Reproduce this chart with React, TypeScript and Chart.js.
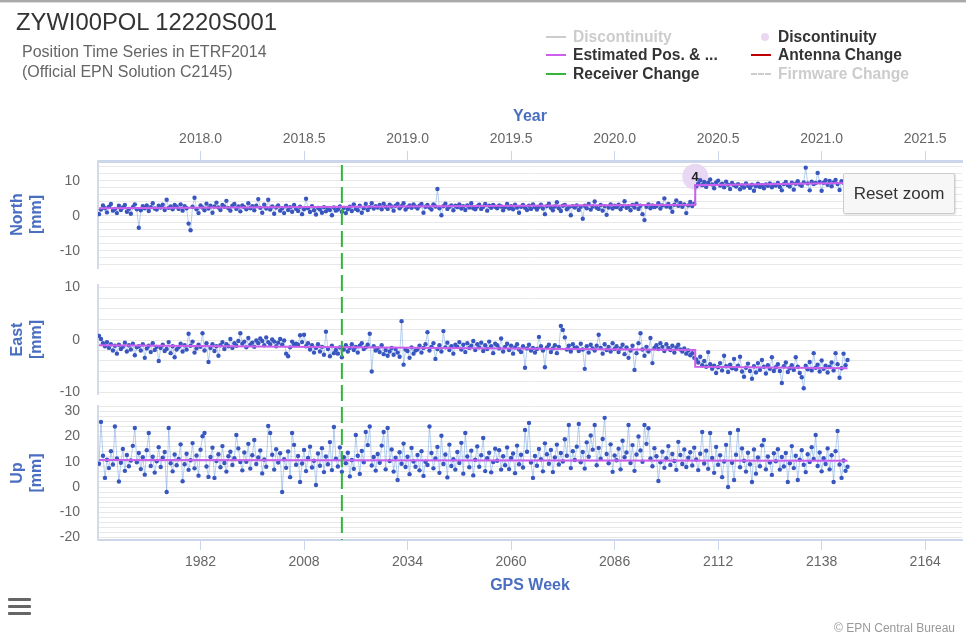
import React, { useEffect, useRef } from 'react';
import { Chart, registerables } from 'chart.js';

Chart.register(...registerables);

const FONT = '"Liberation Sans", Arial, Helvetica, sans-serif';
const BLUE = '#4a6fc1';
const VIOLET = '#cc5fec';
const GREEN = '#33b53a';
const DOT = '#3856c0';

// Epochs: first observation week and spacing (weeks) between plotted samples
const WEEK_START = 1956.5;
const WEEK_STEP = 0.5;

const NORTH: number[] = [
  0.5, 1.8, 3.0, 2.2, 1.0, 2.6, 3.4, 1.5, 2.0, 0.8, 2.9, 1.7, 2.4, 3.1, 1.2, 2.0, 0.6, 2.5, 3.3, 1.9,
  -3.4, 1.6, 2.8, 2.2, 3.0, 1.4, 2.5, 3.6, 2.1, 1.8, 2.9, 2.4, 3.2, 1.7, 4.6, 2.3, 2.7, 1.9, 3.1, 2.6,
  2.0, 3.3, 1.5, 2.8, 2.2, -2.2, -4.1, 2.6, 5.2, 1.9, 0.8, 3.0, 2.4, 1.6, 3.5, 2.1, 2.9, 0.9, 2.7, 3.8,
  2.4, 1.7, 3.1, 2.6, 4.3, 2.2, 1.5, 2.9, 3.4, 2.0, 2.7, 1.3, 3.0, 2.5, 1.9, 3.6, 2.2, 2.8, 1.6, 2.9,
  4.8, 2.3, 0.9, 3.2, 2.1, 4.6, 1.8, 2.7, 0.6, 2.4, 3.0, 1.5, 2.2, 0.8, 2.9, 1.7, 2.5, 1.2, 3.1, 2.0,
  1.4, 2.6, 0.5, 1.9, 4.9, 2.2, 1.1, 2.8, 1.6, 0.4, 2.3, 1.8, 0.9, 2.5, 1.3, 2.1, 1.7, 0.2, 2.4, 1.5,
  1.8, 2.7, 1.2, 2.3, 0.8, 1.9, 2.6, 1.4, 3.3, 2.0, 1.6, 2.9, 0.9, 2.2, 3.4, 1.7, 2.5, 3.6, 2.1, 2.8,
  2.4, 3.1, 1.9, 3.5, 2.6, 2.0, 3.2, 2.7, 1.5, 2.9, 3.4, 2.2, 2.8, 3.6, 1.8, 2.5, 3.0, 2.3, 3.3, 2.6,
  2.1, 2.9, 3.4, 0.9, 2.6, 3.1, 2.4, 1.8, 3.3, 2.7, 7.7, 2.2, 0.2, 2.8, 3.5, 2.0, 2.6, 3.0, 1.6, 2.9,
  2.5, 3.3, 2.1, 2.8, 1.7, 3.0, 2.4, 3.6, 2.2, 1.9, 2.7, 3.2, 2.0, 2.6, 3.4, 1.5, 2.9, 2.3, 3.1, 2.6,
  2.2, 3.0, 2.7, 1.6, 2.5, 3.4, 2.1, 2.8, 1.9, 3.2, 2.4, 0.9, 2.6, 3.1, 2.3, 1.7, 2.9, 2.0, 3.3, 2.5,
  1.8, 2.6, 3.2, 2.1, 0.5, 2.8, 3.5, 2.3, 1.6, 2.7, 3.9, 2.2, 1.4, 2.9, 3.1, 1.9, 2.5, 0.2, 2.8, 2.4,
  3.0, 1.7, 2.6, -0.8, 2.9, 2.2, 3.4, 1.8, 2.7, 4.1, 2.3, 2.0, 3.1, 1.5, 2.8, 0.3, 2.4, 3.3, 2.1, 2.9,
  2.5, 3.2, 1.9, 2.8, 4.2, 2.3, 2.7, 1.6, 3.1, 2.4, 3.5, 2.0, 2.9, 0.5, -1.2, 2.6, 3.3, 2.2, 3.0, 2.5,
  2.8, 3.6, 2.1, 3.0, 5.0, 2.7, 3.4, 2.4, 1.2, 3.2, 4.4, 2.9, 3.7, 2.6, 3.3, 0.8, 3.0, 4.0, 2.8, 3.5,
  8.5, 9.3, 10.2, 8.8, 9.7, 8.3, 9.5, 10.4, 9.0, 7.9, 9.6, 10.1, 8.7, 9.2, 8.2, 9.8, 8.9, 7.7, 9.4, 8.8,
  8.4, 9.1, 7.6, 8.7, 8.1, 9.3, 8.6, 8.0, 8.9, 7.2, 8.5, 9.2, 8.3, 8.8, 7.9, 9.0, 8.6, 9.3, 8.2, 8.9,
  8.7, 9.4, 8.3, 7.3, 9.1, 9.7, 8.8, 8.4, 9.5, 7.5, 9.2, 9.9, 9.0, 8.6, 9.6, 13.8, 9.3, 7.3, 9.8, 9.1,
  9.4, 12.3, 9.7, 7.2, 9.5, 10.2, 8.9, 10.0, 8.5, 9.6, 10.3, 9.1, 7.4, 9.9, 9.5, 10.5, 9.3,
];

const EAST: number[] = [
  0.8, 0.2, -0.6, -1.2, -0.4, -1.5, -0.8, -2.0, -1.1, -2.6, -0.9, -1.7, -1.3, -0.5, -2.2, -1.0, -1.8, -0.7, -2.9, -1.4,
  -1.2, -2.0, -0.8, -3.4, -1.6, -1.1, -2.3, -0.6, -1.9, -1.3, -4.0, -1.5, -0.9, -2.1, -1.7, -0.4, -2.5, -1.2, -3.3, -1.8,
  -1.4, -0.7, -2.2, -1.0, -1.8, 1.2, -1.1, -0.3, -2.4, -1.6, -0.9, -1.3, 1.3, -2.0, -0.6, -4.2, -1.5, -0.8, -2.1, -1.2,
  -3.0, -1.0, -0.4, -1.7, -0.8, -1.2, 0.2, -1.5, -0.6, -1.1, -0.2, 1.3, -0.7, -0.3, -1.4, 0.4, -0.9, -0.5, -1.3, -0.1,
  -0.6, 0.3, -0.2, -1.0, 0.5, -0.4, -0.8, 0.1, -0.3, -1.2, -0.5, 0.2, -0.9, -0.1, -2.6, -3.1, -1.4, -0.3, -0.8, -0.7,
  -0.9, 0.9, -0.4, 1.0, -1.2, -0.6, -1.8, -1.0, -2.4, -1.5, -0.8, -2.2, -1.3, -2.8, 1.6, -1.7, -3.1, -1.1, -2.5, -1.9,
  -2.6, -1.4, -3.3, -1.8, -1.0, -2.2, -1.5, -0.8, -1.9, -1.3, -2.4, -1.1, -0.6, -1.7, -1.4, -0.9, 1.2, -6.0, -1.2, -2.0,
  -1.6, -2.3, -1.0, -2.7, -1.9, -3.0, -2.2, -1.5, -2.8, -1.7, -2.4, -3.2, 3.6, -4.7, -1.8, -2.1, -3.4, -1.4, -2.6, -2.0,
  -1.8, -1.1, -2.4, -1.5, -0.8, 1.5, -2.0, -1.3, -0.6, -3.6, -1.7, -1.0, -2.2, 1.7, -1.4, -0.5, -1.9, -1.2, -2.6, -0.9,
  -1.3, -0.4, -1.8, -0.9, -2.3, -0.6, -1.5, -1.1, -0.2, -1.9, -0.8, -1.4, -0.5, -2.1, -1.0, -1.7, -0.3, -1.2, -2.5, -0.7,
  -1.0, -1.6, 0.3, -2.2, -1.3, -0.7, -1.9, -1.1, -2.6, -1.4, -0.8, -1.8, -2.3, -1.2, -5.3, -1.6, -0.9, -2.0, -1.5, -2.4,
  -1.7, 0.6, -1.2, -2.0, -5.2, -1.4, -0.9, -2.3, -1.6, -1.0, -2.5, -1.3, 2.7, 1.9, 0.5, -1.8, -1.1, -2.2, -0.8, -1.5,
  -1.4, -2.1, -0.7, -1.8, -5.5, -1.2, -2.4, -0.9, -1.6, -2.0, -1.1, 1.0, -1.5, -2.6, -0.8, -1.9, -1.3, -2.2, -0.6, -1.7,
  -1.2, -2.3, -1.6, -0.9, -2.7, -1.4, -3.4, -2.0, -1.1, -5.7, -2.5, -0.6, 1.3, -1.8, -3.0, -1.3, -2.2, 0.4, -4.4, -1.5,
  -1.0, -1.7, -0.6, -1.3, -2.1, -0.8, -1.5, -1.9, -1.1, -2.4, -1.4, -0.9, -1.8, -2.2, -1.6, -2.6, -2.0, -2.9, -2.5, -3.4,
  -3.7, -4.3, -3.2, -4.8, -4.0, -5.1, -2.3, -4.6, -5.5, -4.9, -6.3, -5.2, -4.4, -5.8, -3.0, -5.0, -6.1, -4.7, -5.4, -3.6,
  -5.6, -4.9, -3.2, -6.0, -7.0, -5.3, -4.5, -5.9, -7.4, -5.0, -6.2, -4.4, -5.7, -3.8, -5.1, -6.4, -4.8, -5.5, -3.3, -5.9,
  -5.2, -4.6, -5.9, -8.2, -5.0, -4.3, -6.1, -5.4, -4.8, -5.7, -3.3, -5.1, -6.3, -7.1, -9.2, -4.9, -5.6, -4.2, -5.8, -2.5,
  -5.3, -4.7, -6.0, -3.9, -5.5, -4.9, -6.2, -5.1, -4.3, -5.8, -2.5, -4.6, -7.2, -5.4, -2.6, -4.8, -3.8,
];

const UP: number[] = [
  9.2, 25.8, 12.4, 3.6, 10.8, 7.5, 14.2, 8.9, 24.0, 11.3, 2.2, 9.6, 15.1, 6.4, 12.7, 8.2, 10.5, 16.3, 23.4, 9.8,
  13.5, 7.1, 11.8, 4.9, 14.6, 21.4, 8.3, 12.0, 5.7, 10.2, 15.8, 7.9, 11.6, 13.9, -2.0, 23.4, 9.4, 6.2, 12.9, 8.6,
  11.1, 16.9, 2.3, 9.0, 13.2, 6.8, 10.6, 17.4, 7.4, 12.5, 4.5, 14.8, 20.1, 21.4, 8.1, 4.0, 11.9, 15.6, 3.6, 10.3,
  13.0, 7.8, 16.2, 9.5, 6.1, 12.2, 14.0, 8.7, 11.4, 20.6, 15.3, 9.9, 6.6, 13.7, 10.0, 17.1, 7.3, 12.6, 18.6, 9.1,
  11.7, 14.5, 5.4, 10.9, 8.0, 24.2, 21.4, 12.8, 6.9, 15.0, 9.7, 13.4, -2.0, 11.0, 7.6, 14.1, 3.9, 21.4, 16.7, 8.8,
  12.3, 2.0, 9.3, 14.7, 6.3, 11.5, 16.0, 7.7, 10.4, 0.8, 13.3, 8.4, 15.4, 5.9, 12.1, 9.0, 17.8, 6.7, 23.8, 11.2,
  8.1, 15.7, 6.0, 11.8, 9.4, 13.6, 4.2, 10.7, 7.2, 20.6, 12.4, 5.2, 14.3, 9.8, 21.8, 16.6, 24.0, 8.5, 11.9, 6.5,
  13.1, 9.6, 16.4, 21.8, 7.0, 23.4, 10.3, 14.9, 6.1, 11.6, 2.8, 13.8, 9.2, 17.2, 7.9, 12.0, 5.1, 15.5, 10.1, 8.0,
  12.7, 6.6, 14.2, 4.4, 10.0, 8.7, 24.0, 13.5, 7.4, 11.3, 15.9, 5.6, 20.3, 9.1, 12.9, 3.8, 16.8, 8.3, 11.0, 6.9,
  13.9, 9.5, 17.5, 5.3, 21.4, 12.1, 7.8, 14.4, 4.6, 10.8, 16.1, 8.0, 12.6, 19.4, 6.3, 11.4, 13.6, 5.8, 9.9, 15.2,
  10.4, 14.6, 6.9, 12.2, 8.6, 15.7, 7.1, 11.5, 13.3, 5.5, 16.4, 9.0, 12.8, 7.7, 22.6, 14.0, 25.4, 9.7, 3.6, 12.3,
  8.4, 15.1, 11.0, 6.2, 17.3, 13.0, 9.2, 14.7, 5.9, 11.7, 16.8, 8.9, 13.5, 10.1, 18.9, 12.4, 24.6, 7.5, 14.2, 10.7,
  16.0, 25.0, 9.8, 13.9, 7.3, 17.7, 12.0, 20.4, 14.8, 24.6, 8.6, 15.5, 11.2, 19.0, 27.4, 13.1, 9.4, 16.9, 6.0, 12.5,
  10.6, 15.2, 7.0, 18.3, 11.8, 13.7, 24.6, 9.5, 16.6, 6.4, 12.9, 20.0, 14.5, 10.0, 24.6, 17.1, 23.3, 11.3, 8.2, 15.4,
  12.2, 2.4, 9.8, 14.0, 7.6, 11.4, 16.2, 8.7, 13.1, 10.3, 6.8, 17.9, 12.7, 9.1, 14.9, 7.9, 11.6, 13.8, 8.5, 15.6,
  10.9, 6.7, 13.2, 21.8, 9.3, 14.4, 7.2, 21.4, 11.5, 5.6, 15.9, 8.8, 12.6, 3.9, 10.1, 16.7, 0.0, 21.4, 9.6, 2.8,
  12.8, 22.6, 7.8, 15.3, 10.4, 6.1, 13.6, 9.0, 2.0, 14.9, 5.3, 11.7, 8.2, 16.5, 18.6, 7.0, 12.1, 9.7, 4.8, 13.4,
  10.2, 15.0, 6.9, 11.9, 8.1, 13.5, 2.0, 9.4, 16.2, 7.5, 12.4, 2.8, 10.8, 14.6, 8.8, 5.9, 13.0, 9.9, 15.8, 11.1,
  20.6, 8.3, 13.7, 6.2, 11.4, 9.1, 15.3, 7.0, 12.6, 2.0, 14.2, 22.2, 8.9, 3.6, 10.5, 6.4, 8.0,
];

// Estimated position model (piecewise, with the discontinuity at week 2106.25)
const NORTH_EST_WEEKS = [1956.5, 2106.25, 2106.25, 2144.5];
const NORTH_EST = [2.2, 3.2, 8.8, 9.4];
const EAST_EST_WEEKS = [1956.5, 2106.25, 2106.25, 2144.5];
const EAST_EST = [-1.0, -1.9, -5.1, -5.4];
const UP_EST_WEEKS = [1956.5, 2144.5];
const UP_EST = [10.7, 10.4];

const WEEK_TICKS = [1982, 2008, 2034, 2060, 2086, 2112, 2138, 2164];
const WEEK_LABELS = ['1982', '2008', '2034', '2060', '2086', '2112', '2138', '2164'];
const YEAR_LABELS = ['2018.0', '2018.5', '2019.0', '2019.5', '2020.0', '2020.5', '2021.0', '2021.5'];
const X_MIN = 1956.25;
const X_MAX = 2173.25;

const NORTH_RANGE = [-14.9, 15.7];
const EAST_RANGE = [-10.3, 10.5];
const UP_RANGE = [-21.0, 32.1];

const RECEIVER_CHANGE_WEEK = 2017.5;
const DISCONTINUITY_WEEK = 2106.25;
const DISCONTINUITY_NORTH = 11.2;
const DISCONTINUITY_LABEL = '4';

const tickFont = { family: FONT, size: 14 };
const titleFont = { family: FONT, size: 16, weight: 'bold' as const };

function yAxis(range: number[], weight: number, stackWeight: number, title: string[]) {
  const [min, max] = range;
  return {
    type: 'linear' as const,
    position: 'left' as const,
    stack: 'panels',
    stackWeight,
    weight,
    min,
    max,
    afterFit: (s: any) => { s.width = 98; },
    afterBuildTicks: (s: any) => {
      const t: { value: number }[] = [];
      for (let v = Math.ceil(min / 2) * 2; v <= max; v += 2) t.push({ value: v });
      s.ticks = t;
    },
    ticks: {
      autoSkip: false,
      padding: 18,
      color: '#666666',
      font: tickFont,
      callback: (v: any) => (Number(v) % 10 === 0 ? String(Number(v)) : ''),
    },
    grid: { drawTicks: false, color: '#e8e8e8', lineWidth: 1 },
    border: { display: true, color: '#d3dbe8', width: 2 },
    title: { display: true, text: title, color: BLUE, font: titleFont, padding: { top: 8, bottom: 0 } },
  };
}

const markerPlugin = {
  id: 'markers',
  beforeDatasetsDraw(chart: any) {
    const { ctx, scales } = chart;
    const x = scales.x.getPixelForValue(DISCONTINUITY_WEEK);
    const y = scales.yN.getPixelForValue(DISCONTINUITY_NORTH);
    ctx.save();
    ctx.beginPath();
    ctx.arc(x, y, 13, 0, Math.PI * 2);
    ctx.fillStyle = 'rgba(232,214,243,0.95)';
    ctx.fill();
    ctx.fillStyle = '#222222';
    ctx.font = `bold 13px ${FONT}`;
    ctx.textAlign = 'center';
    ctx.textBaseline = 'middle';
    ctx.fillText(DISCONTINUITY_LABEL, x, y + 1);
    ctx.restore();
  },
  afterDatasetsDraw(chart: any) {
    const { ctx, chartArea, scales } = chart;
    const x = scales.x.getPixelForValue(RECEIVER_CHANGE_WEEK);
    ctx.save();
    ctx.strokeStyle = GREEN;
    ctx.lineWidth = 2;
    ctx.setLineDash([16, 6]);
    ctx.beginPath();
    ctx.moveTo(x, chartArea.top + 4);
    ctx.lineTo(x, chartArea.bottom);
    ctx.stroke();
    ctx.restore();
  },
};

function LegendItem(props: { x: number; y: number; kind: string; color: string; text: string; hidden?: boolean }) {
  const { x, y, kind, color, text, hidden } = props;
  let sym: React.ReactNode;
  if (kind === 'dot') {
    sym = <div style={{ position: 'absolute', left: x + 10, top: y - 4, width: 8, height: 8, borderRadius: 4, background: color }} />;
  } else if (kind === 'dash') {
    sym = <div style={{ position: 'absolute', left: x, top: y - 1, width: 20, height: 0, borderTop: `2px dashed ${color}` }} />;
  } else {
    sym = <div style={{ position: 'absolute', left: x, top: y - 1, width: 20, height: 2, background: color }} />;
  }
  return (
    <>
      {sym}
      <div style={{ position: 'absolute', left: x + 27, top: y - 9, height: 18, lineHeight: '18px', fontSize: 15.6, fontWeight: 'bold', color: hidden ? '#cccccc' : '#333333', whiteSpace: 'nowrap' }}>
        {text}
      </div>
    </>
  );
}

export default function App() {
  const ref = useRef<HTMLCanvasElement>(null);

  useEffect(() => {
    const obs = (vals: number[]) => vals.map((v, i) => ({ x: WEEK_START + i * WEEK_STEP, y: v }));
    const est = (ws: number[], vs: number[]) => ws.map((w, i) => ({ x: w, y: vs[i] }));
    const obsStyle = {
      borderColor: 'rgba(110,160,225,0.5)',
      borderWidth: 1,
      pointRadius: 2.2,
      pointBackgroundColor: DOT,
      pointBorderColor: DOT,
      pointBorderWidth: 0,
      tension: 0,
      order: 2,
    };
    const estStyle = { borderColor: VIOLET, borderWidth: 2, pointRadius: 0, tension: 0, order: 1 };

    const chart = new Chart(ref.current as HTMLCanvasElement, {
      type: 'line',
      data: {
        datasets: [
          { data: est(NORTH_EST_WEEKS, NORTH_EST), yAxisID: 'yN', ...estStyle },
          { data: est(EAST_EST_WEEKS, EAST_EST), yAxisID: 'yE', ...estStyle },
          { data: est(UP_EST_WEEKS, UP_EST), yAxisID: 'yU', ...estStyle },
          { data: obs(NORTH), yAxisID: 'yN', ...obsStyle },
          { data: obs(EAST), yAxisID: 'yE', ...obsStyle },
          { data: obs(UP), yAxisID: 'yU', ...obsStyle },
        ] as any,
      },
      options: {
        animation: false,
        responsive: false,
        maintainAspectRatio: false,
        devicePixelRatio: 1,
        events: [],
        layout: { padding: { top: 100, bottom: 34, left: 0, right: 0 } },
        plugins: { legend: { display: false }, tooltip: { enabled: false }, title: { display: false } },
        scales: {
          x: {
            type: 'linear',
            position: 'bottom',
            min: X_MIN,
            max: X_MAX,
            afterFit: (s: any) => { s.height = 60; },
            afterBuildTicks: (s: any) => { s.ticks = WEEK_TICKS.map((v) => ({ value: v })); },
            ticks: {
              autoSkip: false,
              maxRotation: 0,
              padding: 4,
              color: '#666666',
              font: tickFont,
              callback: (_v: any, i: number) => WEEK_LABELS[i],
            },
            grid: { drawOnChartArea: false, drawTicks: true, tickLength: 10, color: '#ccd6eb' },
            border: { display: true, color: '#ccd6eb', width: 2 },
            title: { display: true, text: 'GPS Week', color: BLUE, font: titleFont, padding: { top: 0, bottom: 5 } },
          },
          x2: {
            type: 'linear',
            position: 'top',
            min: X_MIN,
            max: X_MAX,
            afterFit: (s: any) => { s.height = 61; },
            afterBuildTicks: (s: any) => { s.ticks = WEEK_TICKS.map((v) => ({ value: v })); },
            ticks: {
              autoSkip: false,
              maxRotation: 0,
              padding: 3,
              color: '#666666',
              font: tickFont,
              callback: (_v: any, i: number) => YEAR_LABELS[i],
            },
            grid: { drawOnChartArea: false, drawTicks: true, tickLength: 10, color: '#ccd6eb' },
            border: { display: true, color: '#ccd6eb', width: 3 },
            title: { display: true, text: 'Year', color: BLUE, font: titleFont, padding: { top: 7, bottom: 0 } },
          },
          yN: yAxis(NORTH_RANGE, 5, 107, ['North', '[mm]']),
          gap1: { type: 'linear', position: 'left', stack: 'panels', stackWeight: 17, weight: 4, display: false },
          yE: yAxis(EAST_RANGE, 3, 109, ['East', '[mm]']),
          gap2: { type: 'linear', position: 'left', stack: 'panels', stackWeight: 12, weight: 2, display: false },
          yU: yAxis(UP_RANGE, 1, 134, ['Up', '[mm]']),
        } as any,
      },
      plugins: [markerPlugin],
    });
    return () => chart.destroy();
  }, []);

  return (
    <div style={{ position: 'absolute', left: 0, top: 0, width: 966, height: 634, overflow: 'hidden', background: '#ffffff', fontFamily: FONT }}>
      <canvas ref={ref} width={966} height={634} style={{ position: 'absolute', left: 0, top: 0 }} />
      <div style={{ position: 'absolute', left: 0, top: 0, width: 966, height: 2, background: '#a9a9a9' }} />
      <div style={{ position: 'absolute', left: 0, top: 2, width: 966, height: 1, background: '#dddddd' }} />
      <div style={{ position: 'absolute', left: 16, top: 8, fontSize: 23.8, lineHeight: '28px', color: '#333333', whiteSpace: 'nowrap' }}>
        ZYWI00POL 12220S001
      </div>
      <div style={{ position: 'absolute', left: 22, top: 42, fontSize: 16, lineHeight: '20px', color: '#666666', whiteSpace: 'nowrap' }}>
        Position Time Series in ETRF2014
        <br />
        (Official EPN Solution C2145)
      </div>
      <LegendItem x={546} y={37} kind="line" color="#cccccc" text="Discontinuity" hidden />
      <LegendItem x={546} y={55} kind="line" color={VIOLET} text="Estimated Pos. & ..." />
      <LegendItem x={546} y={74} kind="line" color={GREEN} text="Receiver Change" />
      <LegendItem x={751} y={37} kind="dot" color="#ead8f1" text="Discontinuity" />
      <LegendItem x={751} y={55} kind="line" color="#c00000" text="Antenna Change" />
      <LegendItem x={751} y={74} kind="dash" color="#cccccc" text="Firmware Change" hidden />
      <div style={{ position: 'absolute', left: 843, top: 173, width: 110, height: 39, border: '1px solid #cccccc', borderRadius: 2, background: '#f7f7f7', boxShadow: '1px 1px 2px rgba(0,0,0,0.12)', fontSize: 17, lineHeight: '39px', textAlign: 'center', color: '#333333' }}>
        Reset zoom
      </div>
      <div style={{ position: 'absolute', left: 8, top: 598, width: 23, height: 3, background: '#666666', borderRadius: 1 }} />
      <div style={{ position: 'absolute', left: 8, top: 605, width: 23, height: 3, background: '#666666', borderRadius: 1 }} />
      <div style={{ position: 'absolute', left: 8, top: 612, width: 23, height: 3, background: '#666666', borderRadius: 1 }} />
      <div style={{ position: 'absolute', right: 11, top: 621, fontSize: 12, lineHeight: '14px', color: '#999999', whiteSpace: 'nowrap' }}>
        © EPN Central Bureau
      </div>
    </div>
  );
}
